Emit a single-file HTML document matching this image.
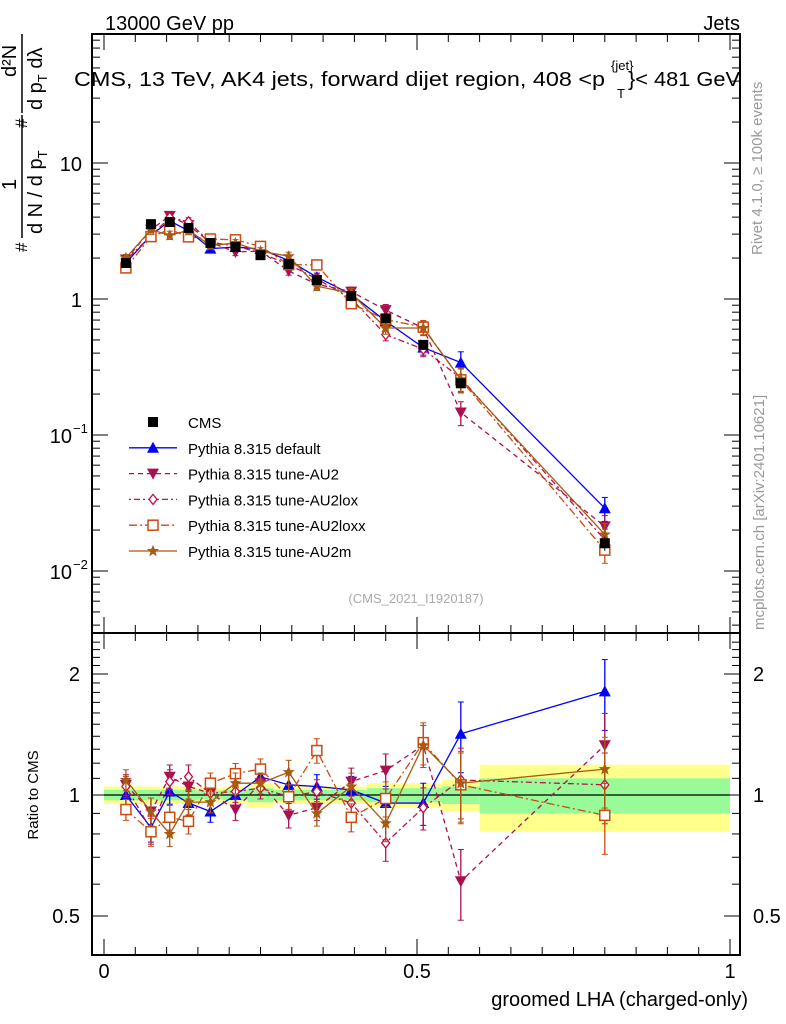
<!DOCTYPE html>
<html><head><meta charset="utf-8"><style>
body{margin:0;background:#fff;}
svg{display:block;font-family:"Liberation Sans",sans-serif;}
</style></head><body>
<svg id="c" width="786" height="1024" xmlns="http://www.w3.org/2000/svg">
<g id="bands"></g><g id="grid"></g><g id="marks"></g><g id="axes"></g>
<text x="105" y="30" font-size="20">13000 GeV pp</text>
<text x="740" y="30" font-size="20" text-anchor="end">Jets</text>
<g font-size="20">
<text x="74" y="86" textLength="531" lengthAdjust="spacingAndGlyphs">CMS, 13 TeV, AK4 jets, forward dijet region, 408 &lt;p</text>
<text x="617" y="98" font-size="13">T</text>
<text x="611" y="70" font-size="13">{jet}</text>
<text x="628" y="86" textLength="112" lengthAdjust="spacingAndGlyphs">}&lt; 481 GeV</text>
</g>
<text x="416" y="603" font-size="13" fill="#aaa" text-anchor="middle">(CMS_2021_I1920187)</text>
<text transform="translate(762,255) rotate(-90)" font-size="15" fill="#999">Rivet 4.1.0, ≥ 100k events</text>
<text transform="translate(764,630) rotate(-90)" font-size="15" fill="#999">mcplots.cern.ch [arXiv:2401.10621]</text>
<g transform="translate(0,252) rotate(-90)">
<text x="0" y="27" font-size="17">#</text>
<line x1="14" y1="22" x2="137" y2="22" stroke="#000" stroke-width="1.5"/>
<text x="18" y="42" font-size="20">d N / d p<tspan font-size="13" dy="5">T</tspan></text>
<text x="62" y="16" font-size="20">1</text>
<text x="124" y="27" font-size="17">#</text>
<line x1="139" y1="22" x2="218" y2="22" stroke="#000" stroke-width="1.5"/>
<text x="142" y="42" font-size="20">d p<tspan font-size="13" dy="5">T</tspan><tspan dy="-5"> d</tspan>λ</text>
<text x="175" y="16" font-size="20">d²N</text>
</g>
<text transform="translate(38,795) rotate(-90)" font-size="15" text-anchor="middle">Ratio to CMS</text>
<text x="748" y="1006" font-size="20" text-anchor="end">groomed LHA (charged-only)</text>
<g id="legend"></g>
</svg>
<script>
const xCenters=[0.035,0.075,0.105,0.135,0.17,0.21,0.25,0.295,0.34,0.395,0.45,0.51,0.57,0.80];
const binEdges=[0,0.05,0.09,0.12,0.15,0.19,0.23,0.27,0.32,0.37,0.42,0.48,0.54,0.6,1.0];
const cmsValues=[1.84,3.55,3.68,3.33,2.58,2.41,2.1,1.81,1.38,1.05,0.72,0.46,0.24,0.016];
const cmsErrRel=[0.04,0.03,0.03,0.03,0.03,0.03,0.03,0.04,0.04,0.04,0.05,0.06,0.08,0.12];
const bandGreen=[0.03,0.03,0.03,0.03,0.025,0.03,0.04,0.03,0.03,0.03,0.04,0.04,0.05,0.1];
const bandYellow=[0.05,0.05,0.05,0.05,0.04,0.05,0.07,0.05,0.05,0.05,0.07,0.07,0.09,0.19];
const ratioDefault=[1.0,0.83,1.02,0.955,0.91,1.0,1.11,1.06,1.05,1.03,0.955,0.955,1.42,1.81];
const ratioAU2=[1.06,0.91,1.11,1.05,1.01,0.92,1.07,0.89,0.93,1.08,1.15,1.33,0.61,1.33];
const ratioAU2lox=[1.05,0.82,1.08,1.11,1.01,1.02,1.04,0.99,1.02,0.955,0.76,0.93,1.09,1.06];
const ratioAU2loxx=[0.92,0.81,0.88,0.86,1.07,1.13,1.16,0.99,1.29,0.88,0.98,1.35,1.06,0.89];
const ratioAU2m=[1.09,0.91,0.8,0.96,0.96,1.07,1.07,1.14,0.9,1.05,0.85,1.33,1.07,1.16];
const modelErrRel=[0.06,0.08,0.07,0.07,0.06,0.06,0.06,0.07,0.07,0.08,0.1,0.12,0.2,0.2];
const xTicks=[0,0.5,1];
const xTickLabels=["0","0.5","1"];
const ratioTicks=[0.5,1,2];

const NS="http://www.w3.org/2000/svg";
const L=92,R=740,T=34,MB=633,RB=955;
const xs=v=>104+626*v;
const ym=v=>299-136*Math.log10(v);
const yr=v=>795-121*Math.log2(v);
function mk(parent,tag,attrs){const e=document.createElementNS(NS,tag);for(const k in attrs)e.setAttribute(k,attrs[k]);document.getElementById(parent).appendChild(e);return e;}

for(let i=0;i<cmsValues.length;i++){
  let b=mk('bands','rect',{x:xs(binEdges[i]),width:xs(binEdges[i+1])-xs(binEdges[i]),y:yr(1+bandYellow[i]),height:yr(1-bandYellow[i])-yr(1+bandYellow[i]),fill:'#ffff8c'});
  
  
  let g=mk('bands','rect',{x:xs(binEdges[i]),width:xs(binEdges[i+1])-xs(binEdges[i]),y:yr(1+bandGreen[i]),height:yr(1-bandGreen[i])-yr(1+bandGreen[i]),fill:'#98fb98'});
  
  
}
let ul=mk('grid','line',{x1:xs(0),x2:xs(1),y1:yr(1),y2:yr(1),stroke:'#000','stroke-width':1.2});



function ln(x1,y1,x2,y2,w){return mk('axes','line',{x1,y1,x2,y2,stroke:'#000','stroke-width':w||1});}
let f1=mk('axes','rect',{x:L,y:T,width:R-L,height:MB-T,fill:'none',stroke:'#000','stroke-width':2});

let f2=mk('axes','rect',{x:L,y:MB,width:R-L,height:RB-MB,fill:'none',stroke:'#000','stroke-width':2});

for(let d=-3;d<=1;d++)for(let m=1;m<10;m++){
  const v=m*Math.pow(10,d);const y=ym(v);if(y<T||y>MB)continue;
  const len=m==1?16:8;ln(L,y,L+len,y);ln(R,y,R-len,y);
}
const decLabels=[[0.01,'10','−2'],[0.1,'10','−1'],[1,'1',''],[10,'10','']];
decLabels.forEach(([v,b,e])=>{const t=mk('axes','text',{x:e?72:82,y:ym(v)+8,'font-size':20,'text-anchor':'end'});t.textContent=b;
  
  if(e){const s=mk('axes','text',{x:73,y:ym(v)-2,'font-size':13});s.textContent=e;}});
for(let v=0.4;v<=2.5;v+=0.1){const y=yr(v);if(y<MB||y>RB)continue;const maj=ratioTicks.some(t=>Math.abs(t-v)<1e-6);const len=maj?16:8;ln(L,y,L+len,y);ln(R,y,R-len,y);}
ratioTicks.forEach(v=>{['l','r'].forEach(s=>{const t=mk('axes','text',{x:s=='l'?80:753,y:yr(v)+7,'font-size':20,'text-anchor':s=='l'?'end':'start'});t.textContent=v==0.5?'0.5':String(v);
  });});
for(let v=0;v<=1.0001;v+=0.05){const x=xs(v);const maj=Math.abs(v*2-Math.round(v*2))<1e-6;const len=maj?16:8;ln(x,T,x,T+len);ln(x,MB,x,MB-len);ln(x,MB,x,MB+len);ln(x,RB,x,RB-len);}
xTicks.forEach((v,i)=>{const t=mk('axes','text',{x:xs(v),y:978,'font-size':20,'text-anchor':'middle'});t.textContent=xTickLabels[i];
  });

function marker(g,type,x,y,col){
  let e;
  if(type=='sq')e=mk(g,'rect',{x:x-5,y:y-5,width:10,height:10,fill:'#000'});
  else if(type=='tri')e=mk(g,'polygon',{points:`${x},${y-6} ${x-6},${y+5} ${x+6},${y+5}`,fill:col});
  else if(type=='itri')e=mk(g,'polygon',{points:`${x},${y+6} ${x-6},${y-5} ${x+6},${y-5}`,fill:col});
  else if(type=='dia')e=mk(g,'polygon',{points:`${x},${y-5} ${x-4},${y} ${x},${y+5} ${x+4},${y}`,fill:'#fff',stroke:col,'stroke-width':1.3});
  else if(type=='osq')e=mk(g,'rect',{x:x-5,y:y-5,width:10,height:10,fill:'#fff',stroke:col,'stroke-width':1.5});
  else if(type=='star')e=mk(g,'polygon',{points:`${x},${y-6} ${x+1.8},${y-2} ${x+6},${y-2} ${x+2.6},${y+1} ${x+3.7},${y+5.5} ${x},${y+2.8} ${x-3.7},${y+5.5} ${x-2.6},${y+1} ${x-6},${y-2} ${x-1.8},${y-2}`,fill:col});
  return e;
}
const series=[
 {name:'default',label:'Pythia 8.315 default',r:ratioDefault,col:'#0000ff',dash:'',m:'tri'},
 {name:'au2',label:'Pythia 8.315 tune-AU2',r:ratioAU2,col:'#aa1050',dash:'5,4',m:'itri'},
 {name:'au2lox',label:'Pythia 8.315 tune-AU2lox',r:ratioAU2lox,col:'#c01048',dash:'2,3,6,3',m:'dia'},
 {name:'au2loxx',label:'Pythia 8.315 tune-AU2loxx',r:ratioAU2loxx,col:'#cc4a10',dash:'8,3,2,3',m:'osq'},
 {name:'au2m',label:'Pythia 8.315 tune-AU2m',r:ratioAU2m,col:'#a85a10',dash:'',m:'star'}];
series.forEach(s=>{
  const vals=cmsValues.map((c,i)=>c*s.r[i]);
  [[ym,vals,'main'],[yr,s.r,'ratio']].forEach(([yf,arr,pan])=>{
    const pl=mk('marks','polyline',{points:arr.map((v,i)=>xs(xCenters[i])+','+yf(v)).join(' '),fill:'none',stroke:s.col,'stroke-width':1.3,'stroke-dasharray':s.dash});
    
    
    arr.forEach((v,i)=>{
      const x=xs(xCenters[i]);const e=modelErrRel[i];
      const eb=mk('marks','line',{x1:x,x2:x,y1:yf(v*(1+e)),y2:yf(v*(1-e)),stroke:s.col,'stroke-width':1.3});
      
      
      mk('marks','line',{x1:x-3,x2:x+3,y1:yf(v*(1+e)),y2:yf(v*(1+e)),stroke:s.col});
      mk('marks','line',{x1:x-3,x2:x+3,y1:yf(v*(1-e)),y2:yf(v*(1-e)),stroke:s.col});
      const m=marker('marks',s.m,x,yf(v),s.col);
      
      
    });
  });
});
cmsValues.forEach((v,i)=>{
  const x=xs(xCenters[i]);
  mk('marks','line',{x1:x,x2:x,y1:ym(v*(1+cmsErrRel[i])),y2:ym(v*(1-cmsErrRel[i])),stroke:'#000'});
  const m=marker('marks','sq',x,ym(v),'#000');
  
  
});
const lg=[{label:'CMS',m:'sq',col:'#000',dash:null}].concat(series);
lg.forEach((s,i)=>{
  const y=422+i*25.8;
  if(s.dash!==null){mk('legend','line',{x1:129,x2:177,y1:y,y2:y,stroke:s.col,'stroke-width':1.3,'stroke-dasharray':s.dash});}
  marker('legend',s.m,153,y,s.col);
  const t=mk('legend','text',{x:188,y:y+6,'font-size':15});t.textContent=s.label;
  
  
});
</script>
</body></html>
